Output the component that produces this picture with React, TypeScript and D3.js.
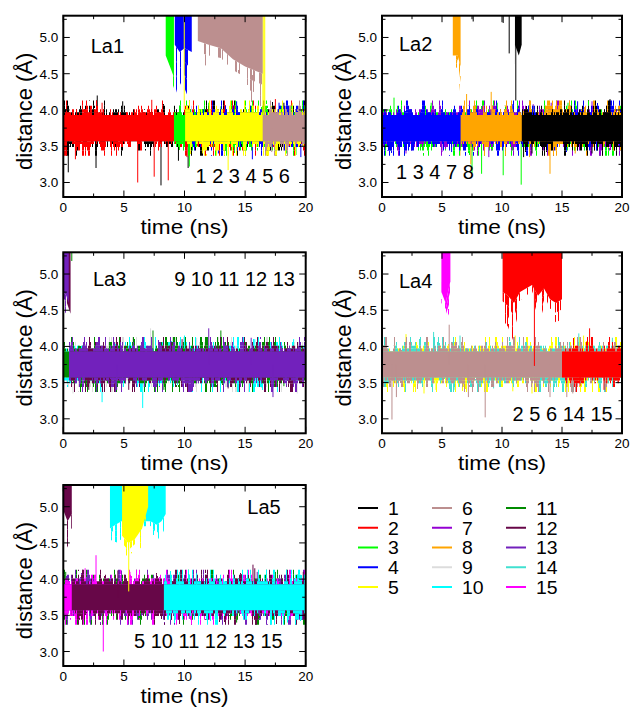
import React from 'react';
import * as d3 from 'd3';

// ---------- data ----------
const SERIES_IDS = [1, 2, 3, 4, 5, 6, 7, 8, 9, 10, 11, 12, 13, 14, 15];
const SERIES_COLORS = ['#000000', '#ff0000', '#00ff00', '#0000ff', '#ffff00', '#bc8f8f', '#9400d3', '#ffa500',
  '#dcdcdc', '#00ffff', '#008b00', '#670748', '#7221bc', '#40e0d0', '#ff00ff'];

const X_DOMAIN: [number, number] = [0, 20];
const Y_DOMAIN: [number, number] = [2.8, 5.3];
const X_TICKS = [0, 5, 10, 15, 20];
const X_TICK_LABELS = ['0', '5', '10', '15', '20'];
const X_MINOR = [2.5, 7.5, 12.5, 17.5];
const Y_TICKS = [3.0, 3.5, 4.0, 4.5, 5.0];
const Y_TICK_LABELS = ['3.0', '3.5', '4.0', '4.5', '5.0'];
const Y_MINOR = [3.25, 3.75, 4.25, 4.75, 5.25];

// bound-state band (core) and its noisy fringe, in Å
const BAND_LO = 3.57;
const BAND_HI = 3.93;
const BAND_MID = 3.75;
const TOP_VALUE = 5.5;
const FRINGE_STEPS = [0, 0.04, 0.08, 0.13, 0.2];

type Trace = {
  id: number;
  bound?: [number, number][];               // [t0, t1] bound intervals
  unbound?: [number, number, number][];     // [t, dense lower edge, sparse lower edge]
  spikes?: [number, number][];              // [t, value] excursions from the band
  drops?: [number, number][];               // [t, value] lines from above the frame down to value
};

const LA1_TRACES: Trace[] = [
  { id: 1, bound: [[0, 20]], spikes: [[0.41, 3.14], [2.7, 3.2], [2.8, 4.2], [4.9, 4.12], [8.06, 2.96], [9.5, 3.3], [10.3, 3.2], [18.2, 4.1]] },
  { id: 2, bound: [[0, 20]], spikes: [[1.0, 3.32], [3.2, 4.1], [6.14, 3.0], [7.3, 4.14], [7.5, 3.08], [8.66, 3.03], [10.2, 3.35], [17.5, 4.15]] },
  { id: 3, unbound: [[8.45, 4.75, 4.55], [8.8, 4.6, 4.2], [9.13, 4.45, 4.0]], bound: [[9.13, 20]], spikes: [[10.4, 3.22], [12.0, 4.1], [13.0, 4.05], [18.4, 3.4], [19.2, 3.38]] },
  { id: 4, unbound: [[9.2, 4.9, 4.35], [9.6, 4.8, 4.1], [10.0, 4.85, 4.3], [10.6, 4.8, 4.05]], bound: [[10.6, 20]], spikes: [[12.8, 3.4], [14.3, 4.12], [15.6, 3.32], [17.8, 4.1], [19.6, 3.35]] },
  { id: 5, bound: [[10.05, 20]], drops: [[9.98, 4.0], [16.47, 3.9], [16.55, 3.9], [16.62, 3.9]], spikes: [[11.5, 3.4], [13.6, 3.17], [18.9, 4.1]] },
  { id: 6, unbound: [[11.1, 4.95, 4.5], [12, 4.9, 4.45], [13, 4.85, 4.45], [14, 4.7, 4.25], [15, 4.6, 4.15], [16.45, 4.5, 4.04]], bound: [[16.45, 20]], spikes: [[17.2, 3.42]] },
];

const LA2_TRACES: Trace[] = [
  { id: 3, bound: [[0, 20]], spikes: [[1.0, 4.17], [4.1, 4.1], [7.5, 3.13], [8.3, 3.12], [9.6, 4.1], [10.1, 3.1], [11.6, 2.97], [15.5, 4.1]] },
  { id: 7, bound: [[0, 20]], spikes: [[2.0, 3.4], [5.0, 3.42], [8.9, 3.35], [12.6, 4.08], [14.1, 4.1], [17.5, 4.12]] },
  { id: 4, bound: [[0, 20]], spikes: [[3.5, 4.1], [5.8, 3.42], [10.9, 4.08], [16.3, 4.12]] },
  { id: 8, unbound: [[5.9, 4.75, 4.6], [6.3, 4.75, 4.58], [6.55, 4.6, 3.95]], bound: [[6.55, 20]], spikes: [[7.05, 4.22], [7.4, 3.25], [9.1, 4.25], [12.3, 3.35], [14.0, 3.12], [16.1, 3.4]] },
  { id: 1, unbound: [[11.08, 4.9, 4.5], [11.4, 4.75, 4.4], [11.64, 4.9, 4.4]], bound: [[11.65, 20]], drops: [[7.6, 5.22], [10.1, 5.2], [10.6, 4.78], [11.15, 4.13], [12.6, 5.24]], spikes: [[11.8, 3.35], [12.5, 3.4], [17.5, 3.4], [19.0, 4.15]] },
];

const LA3_TRACES: Trace[] = [
  { id: 9, bound: [[0, 20]], spikes: [[0.8, 3.35], [7.2, 4.25], [11.0, 4.12], [19.3, 3.35]] },
  { id: 10, bound: [[0, 20]], spikes: [[1.7, 4.05], [3.2, 3.23], [6.55, 3.15], [10.0, 4.15], [15.8, 4.1], [19.0, 4.1]] },
  { id: 11, bound: [[0, 20]], drops: [[0.7, 5.18]], spikes: [[7.4, 4.22], [8.3, 3.4], [13.0, 4.22], [18.2, 3.45]] },
  { id: 12, unbound: [[0.3, 4.6, 4.35], [0.6, 4.45, 4.3]], bound: [[0.55, 20]], spikes: [[2.1, 3.4], [5.4, 3.4], [9.8, 4.1], [13.6, 3.42]] },
  { id: 13, unbound: [[0.02, 4.75, 4.5], [0.25, 4.7, 4.45], [0.45, 4.6, 4.4]], bound: [[0.47, 20]], spikes: [[4.4, 3.4], [12.0, 4.25], [15.5, 4.12], [17.3, 3.3]] },
];

const LA4_TRACES: Trace[] = [
  { id: 5, bound: [[0, 20]], spikes: [[2.0, 4.17], [3.5, 3.35], [4.5, 3.4], [10.9, 3.38], [11.1, 4.15], [12.5, 3.35], [16.8, 4.15], [19.5, 4.1]] },
  { id: 14, bound: [[0, 20]], spikes: [[4.3, 4.2], [6.0, 3.4], [6.5, 4.15], [9.3, 3.42], [16.4, 4.18], [19.2, 4.12]] },
  { id: 6, bound: [[0, 20]], spikes: [[0.83, 2.99], [1.2, 3.3], [5.6, 4.3], [7.2, 3.3], [8.6, 3.02], [14.0, 3.3], [15.4, 3.3], [15.9, 3.35]] },
  { id: 15, unbound: [[4.95, 4.75, 4.3], [5.3, 4.6, 4.35], [5.7, 4.9, 4.5]] },
  { id: 2, unbound: [[10.05, 4.75, 4.37], [10.5, 4.7, 4.27], [11, 4.6, 4.05], [11.5, 4.75, 4.41], [12, 4.8, 4.5], [12.5, 4.85, 4.6], [13, 4.7, 4.27], [13.5, 4.8, 4.55], [14, 4.65, 4.27], [14.5, 4.6, 4.2], [15.0, 4.65, 4.24]], bound: [[15.0, 20]], drops: [[12.7, 3.73]], spikes: [[16.5, 3.45], [17.3, 4.25], [18.5, 3.4]] },
];

const LA5_TRACES: Trace[] = [
  { id: 11, bound: [[0, 20]], spikes: [[0.2, 4.1], [2.2, 3.4], [12.4, 3.45], [14.3, 3.4], [17.5, 4.1]] },
  { id: 13, bound: [[0, 20]], spikes: [[4.8, 4.12], [10.4, 3.45], [16.0, 4.1]] },
  { id: 15, bound: [[0, 20]], spikes: [[1.8, 4.15], [2.7, 4.33], [3.3, 3.0], [5.5, 4.1], [15.9, 3.42], [18.7, 3.45]] },
  { id: 12, unbound: [[0.0, 4.95, 4.5], [0.35, 4.8, 4.45], [0.7, 4.9, 4.3]], bound: [[0.7, 20]], spikes: [[4.5, 4.12], [15.65, 4.2], [15.8, 4.15], [19.8, 4.1]] },
  { id: 10, unbound: [[3.85, 4.7, 4.55], [4.3, 4.75, 4.5], [4.8, 4.8, 4.55], [7.2, 4.8, 4.6], [7.7, 4.75, 4.4], [8.1, 4.8, 4.55], [8.45, 4.9, 4.0]], bound: [[8.3, 20]], spikes: [[9.6, 4.1], [11.0, 4.08], [18.5, 3.4]] },
  { id: 5, unbound: [[4.85, 4.6, 4.3], [5.36, 4.5, 4.2], [5.9, 4.55, 4.35], [6.5, 4.7, 4.45], [7.0, 5.0, 4.9]], drops: [[5.4, 3.83]] },
];

const PANEL_NAMES = ['La1', 'La2', 'La3', 'La4', 'La5'];
const PANEL_MEMBERS = ['1 2 3 4 5 6', '1 3 4 7 8', '9 10 11 12 13', '2 5 6 14 15', '5 10 11 12 13 15'];
const PANEL_TRACES = [LA1_TRACES, LA2_TRACES, LA3_TRACES, LA4_TRACES, LA5_TRACES];

// ---------- layout / style ----------
const FONT = 'Liberation Sans, Arial, Helvetica, sans-serif';
const LAYOUT = [
  { left: 63.3, top: 15.7, w: 242.4, h: 181.3, name: [90.7, 53.3, 'start'], nums: [290, 182.7, 'end'] },
  { left: 382, top: 15.7, w: 240, h: 181.3, name: [399, 51, 'start'], nums: [396, 179, 'start'] },
  { left: 63.3, top: 252.3, w: 242.4, h: 181, name: [93, 286, 'start'], nums: [295, 286, 'end'] },
  { left: 382, top: 252.3, w: 240, h: 181, name: [399, 288, 'start'], nums: [612.7, 421, 'end'] },
  { left: 63.3, top: 485, w: 242.4, h: 181, name: [247.3, 514.3, 'start'], nums: [282.7, 648.3, 'end'] },
];
const THRESH = [0.45, 0.55, 0.63, 0.7];

const table = (thr: number) => Array.from({ length: 50 }, (_, i) => (i / 50 >= thr ? 1 : 0)).join(' ');
const colorOf = (id: number) => SERIES_COLORS[SERIES_IDS.indexOf(id)];

function Panel({ idx }: { idx: number }) {
  const L = LAYOUT[idx];
  const traces = PANEL_TRACES[idx];
  const x = d3.scaleLinear().domain(X_DOMAIN).range([L.left, L.left + L.w]);
  const y = d3.scaleLinear().domain(Y_DOMAIN).range([L.top + L.h, L.top]);
  const clipId = `clip${idx}`;
  const band = (t0: number, t1: number, lo: number, hi: number) =>
    d3.area<number>().x((d) => x(d)).y0(y(lo)).y1(y(hi))([t0, t1]) || '';
  const ub = (pts: [number, number, number][], f0: number | null, f1: number) =>
    d3.area<[number, number, number]>()
      .x((d) => x(d[0]))
      .y0((d) => y(d[1] - (d[1] - d[2]) * f1))
      .y1((d) => (f0 === null ? y(TOP_VALUE) : y(d[1] - (d[1] - d[2]) * f0)))(pts) || '';

  const bottom = L.top + L.h;
  const right = L.left + L.w;
  const maj = 6.5, min = 3.5;
  return (
    <g>
      <defs>
        <clipPath id={clipId}><rect x={L.left} y={L.top} width={L.w} height={L.h} /></clipPath>
      </defs>
      <g clipPath={`url(#${clipId})`}>
        {traces.map((tr, ti) => {
          const c = colorOf(tr.id);
          return (
            <g key={ti}>
              {(tr.unbound ? [tr.unbound] : []).map((pts, ui) => (
                <g key={'u' + ui}>
                  {[0, 1, 2].map((k) => (
                    <path key={k} d={ub(pts, k / 3, (k + 1) / 3)} fill={c} filter={`url(#f${tr.id}b${k + 1})`} />
                  ))}
                  <path d={ub(pts, null, 0)} fill={c} />
                </g>
              ))}
              {(tr.bound || []).map(([t0, t1], bi) => (
                <g key={'b' + bi}>
                  {[0, 1, 2, 3].map((k) => (
                    <g key={k}>
                      <path d={band(t0, t1, BAND_HI + FRINGE_STEPS[k], BAND_HI + FRINGE_STEPS[k + 1])} fill={c} filter={`url(#f${tr.id}t${k})`} />
                      <path d={band(t0, t1, BAND_LO - FRINGE_STEPS[k + 1], BAND_LO - FRINGE_STEPS[k])} fill={c} filter={`url(#f${tr.id}b${k})`} />
                    </g>
                  ))}
                  <path d={band(t0, t1, BAND_LO, BAND_HI)} fill={c} />
                </g>
              ))}
              {(tr.spikes || []).map(([t, v], si) => (
                <line key={'s' + si} x1={x(t)} x2={x(t)} y1={y(BAND_MID)} y2={y(v)} stroke={c} strokeWidth={1} />
              ))}
              {(tr.drops || []).map(([t, v], si) => (
                <line key={'d' + si} x1={x(t)} x2={x(t)} y1={y(TOP_VALUE)} y2={y(v)} stroke={c} strokeWidth={1} />
              ))}
            </g>
          );
        })}
      </g>
      {/* ticks, inward on all four sides */}
      {X_TICKS.map((t) => (
        <g key={'xt' + t}>
          <line x1={x(t)} x2={x(t)} y1={bottom} y2={bottom - maj} stroke="#000" strokeWidth={1} />
          <line x1={x(t)} x2={x(t)} y1={L.top} y2={L.top + maj} stroke="#000" strokeWidth={1} />
        </g>
      ))}
      {X_MINOR.map((t) => (
        <g key={'xm' + t}>
          <line x1={x(t)} x2={x(t)} y1={bottom} y2={bottom - min} stroke="#000" strokeWidth={1} />
          <line x1={x(t)} x2={x(t)} y1={L.top} y2={L.top + min} stroke="#000" strokeWidth={1} />
        </g>
      ))}
      {Y_TICKS.map((v) => (
        <g key={'yt' + v}>
          <line x1={L.left} x2={L.left + maj} y1={y(v)} y2={y(v)} stroke="#000" strokeWidth={1} />
          <line x1={right} x2={right - maj} y1={y(v)} y2={y(v)} stroke="#000" strokeWidth={1} />
        </g>
      ))}
      {Y_MINOR.map((v) => (
        <g key={'ym' + v}>
          <line x1={L.left} x2={L.left + min} y1={y(v)} y2={y(v)} stroke="#000" strokeWidth={1} />
          <line x1={right} x2={right - min} y1={y(v)} y2={y(v)} stroke="#000" strokeWidth={1} />
        </g>
      ))}
      <rect x={L.left} y={L.top} width={L.w} height={L.h} fill="none" stroke="#000" strokeWidth={2} />
      {X_TICKS.map((t, i) => (
        <text key={'xl' + t} x={x(t)} y={bottom + 15} textAnchor="middle" fontSize={13.5} fontFamily={FONT}>{X_TICK_LABELS[i]}</text>
      ))}
      {Y_TICKS.map((v, i) => (
        <text key={'yl' + v} x={L.left - 5} y={y(v) + 5} textAnchor="end" fontSize={13.5} fontFamily={FONT}>{Y_TICK_LABELS[i]}</text>
      ))}
      <text x={L.left + L.w / 2} y={bottom + 36.5} textAnchor="middle" fontSize={20.5} fontFamily={FONT}
        textLength={88} lengthAdjust="spacingAndGlyphs">time (ns)</text>
      <text transform={`translate(${L.left - 31},${L.top + L.h / 2 + 5}) rotate(-90)`} textAnchor="middle" fontSize={22} fontFamily={FONT}>distance (Å)</text>
      <text x={L.name[0] as number} y={L.name[1] as number} textAnchor={L.name[2] as string} fontSize={20} fontFamily={FONT}>{PANEL_NAMES[idx]}</text>
      <text x={L.nums[0] as number} y={L.nums[1] as number} textAnchor={L.nums[2] as string} fontSize={20} fontFamily={FONT} style={{ whiteSpace: 'pre' }}>{PANEL_MEMBERS[idx]}</text>
    </g>
  );
}

function Legend() {
  const colX = [358, 432, 506];
  const rowY = d3.scaleLinear().domain([0, 4]).range([508, 587]);
  return (
    <g>
      {SERIES_IDS.map((id, i) => {
        const col = Math.floor(i / 5), row = i % 5;
        const yy = rowY(row);
        return (
          <g key={id}>
            <line x1={colX[col]} x2={colX[col] + 20} y1={yy} y2={yy} stroke={SERIES_COLORS[i]} strokeWidth={2} />
            <text x={colX[col] + 30} y={yy + 6.8} fontSize={17.5} fontFamily={FONT}
              textLength={String(id).length * 10.8} lengthAdjust="spacingAndGlyphs">{String(id)}</text>
          </g>
        );
      })}
    </g>
  );
}

export default function App() {
  return (
    <svg width={633} height={707} style={{ position: 'absolute', left: 0, top: 0, background: '#fff' }}>
      <defs>
        {SERIES_IDS.flatMap((s) => ['t', 'b'].flatMap((side, si) => THRESH.map((thr, k) => (
          <filter key={`f${s}${side}${k}`} id={`f${s}${side}${k}`} x="0" y="0" width="1" height="1" colorInterpolationFilters="sRGB">
            <feTurbulence type="fractalNoise" baseFrequency="0.45 0.004" numOctaves={2} seed={s * 11 + si * 5} result="n" />
            <feComponentTransfer in="n" result="m">
              <feFuncA type="discrete" tableValues={table(thr)} />
            </feComponentTransfer>
            <feComposite in="SourceGraphic" in2="m" operator="in" />
          </filter>
        ))))}
      </defs>
      <rect x={0} y={0} width={633} height={707} fill="#fff" />
      {[0, 1, 2, 3, 4].map((i) => <Panel key={i} idx={i} />)}
      <Legend />
    </svg>
  );
}
